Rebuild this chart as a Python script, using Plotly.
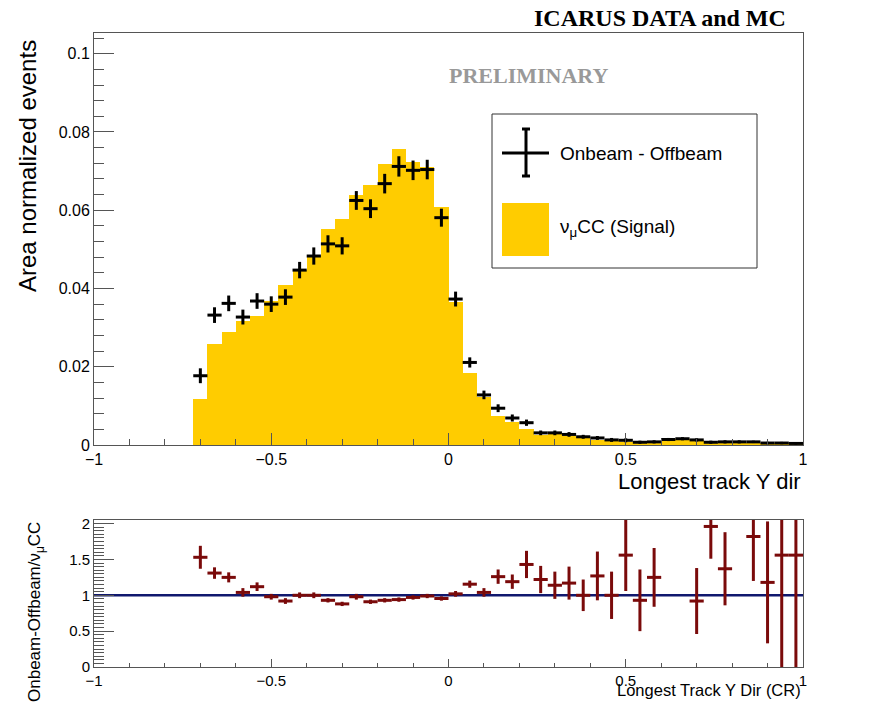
import plotly.graph_objects as go

W, H = 877, 705

# ---- data ----
bin_centers = [-0.70, -0.66, -0.62, -0.58, -0.54, -0.50, -0.46, -0.42, -0.38, -0.34,
               -0.30, -0.26, -0.22, -0.18, -0.14, -0.10, -0.06, -0.02, 0.02, 0.06,
               0.10, 0.14, 0.18, 0.22, 0.26, 0.30, 0.34, 0.38, 0.42, 0.46,
               0.50, 0.54, 0.58, 0.62, 0.66, 0.70, 0.74, 0.78, 0.82, 0.86,
               0.90, 0.94, 0.98]
bin_halfwidth = 0.02

data_vals = [0.0177, 0.0332, 0.0362, 0.0327, 0.0368, 0.0360, 0.0378, 0.0447, 0.0483, 0.0514,
             0.0509, 0.0625, 0.0604, 0.0668, 0.0712, 0.0702, 0.0704, 0.0581, 0.0373, 0.0211,
             0.0128, 0.0094, 0.0069, 0.0057, 0.0031, 0.0031, 0.0027, 0.0021, 0.0018, 0.0013,
             0.0012, 0.0007, 0.0008, 0.0014, 0.0016, 0.0013, 0.0007, 0.0008, 0.0008, 0.0008,
             0.0005, 0.0005, 0.0004]
data_err = [0.0019, 0.0020, 0.0020, 0.0019, 0.0020, 0.0020, 0.0020, 0.0021, 0.0022, 0.0022,
            0.0022, 0.0024, 0.0024, 0.0025, 0.0026, 0.0025, 0.0025, 0.0023, 0.0019, 0.0013,
            0.0011, 0.0010, 0.0009, 0.0008, 0.0006, 0.0006, 0.0006, 0.0005, 0.0005, 0.0005,
            0.0005, 0.0004, 0.0004, 0.0004, 0.0004, 0.0004, 0.0004, 0.0004, 0.0004, 0.0003,
            0.0003, 0.0003, 0.0003]
mc_vals = [0.0117, 0.0257, 0.0289, 0.0317, 0.0330, 0.0367, 0.0410, 0.0447, 0.0482, 0.0553,
           0.0578, 0.0638, 0.0664, 0.0718, 0.0757, 0.0724, 0.0711, 0.0608, 0.0366, 0.0184,
           0.0122, 0.0075, 0.0059, 0.0040, 0.0026, 0.0027, 0.0023, 0.0021, 0.0014, 0.0012,
           0.0008, 0.0008, 0.0006, 0.0013, 0.0015, 0.0014, 0.0004, 0.0006, 0.0005, 0.0004,
           0.0004, 0.0003, 0.0003]

ratio_vals = [1.53, 1.31, 1.25, 1.04, 1.12, 0.98, 0.92, 1.00, 1.00, 0.93,
              0.88, 0.98, 0.91, 0.93, 0.94, 0.97, 0.99, 0.955, 1.02, 1.155,
              1.04, 1.26, 1.19, 1.43, 1.22, 1.14, 1.17, 1.00, 1.27, 1.00,
              1.56, 0.93, 1.25, None, None, 0.92, 1.96, 1.37, None, 1.82,
              1.18, 1.56, 1.56]
ratio_err = [0.16, 0.08, 0.07, 0.06, 0.06, 0.04, 0.04, 0.04, 0.04, 0.03,
             0.03, 0.04, 0.03, 0.03, 0.03, 0.03, 0.03, 0.03, 0.04, 0.05,
             0.06, 0.10, 0.10, 0.19, 0.19, 0.19, 0.23, 0.22, 0.34, 0.33,
             0.50, 0.43, 0.41, 0.0, 0.0, 0.46, 0.45, 0.51, 0.0, 0.62,
             0.85, 1.60, 1.60]

# ---- geometry (pixels) ----
XL, XR = 94, 803
M_TOP, M_BOT = 33, 445
R_TOP, R_BOT = 520, 667

def px(x):
    return x / W

def py(y):
    return 1 - y / H

YELLOW = "#ffcc00"
DRED = "#7a0a0a"
NAVY = "#10186e"
FRAME = "#555555"
FONT = "Liberation Sans, Arial, sans-serif"
SERIF = "Liberation Serif, Times New Roman, serif"

fig = go.Figure()

# MC histogram
fig.add_trace(go.Bar(x=bin_centers, y=mc_vals, width=2 * bin_halfwidth,
                     marker=dict(color=YELLOW, line=dict(width=0)),
                     xaxis="x", yaxis="y", showlegend=False))

# Data points
fig.add_trace(go.Scatter(x=bin_centers, y=data_vals, mode="markers",
                         marker=dict(size=1, color="black"),
                         error_x=dict(type="constant", value=bin_halfwidth, thickness=3, width=0, color="black"),
                         error_y=dict(type="data", array=data_err, thickness=3, width=0, color="black"),
                         xaxis="x", yaxis="y", showlegend=False))

# Ratio unity line
fig.add_trace(go.Scatter(x=[-1, 1], y=[1, 1], mode="lines",
                         line=dict(color=NAVY, width=2.5),
                         xaxis="x2", yaxis="y2", showlegend=False))

# Ratio points
fig.add_trace(go.Scatter(x=bin_centers, y=ratio_vals, mode="markers",
                         marker=dict(size=1, color=DRED),
                         error_x=dict(type="constant", value=bin_halfwidth, thickness=3, width=0, color=DRED),
                         error_y=dict(type="data", array=ratio_err, thickness=3, width=0, color=DRED),
                         xaxis="x2", yaxis="y2", showlegend=False, cliponaxis=True))

axis_common = dict(showgrid=False, zeroline=False, showline=True, linecolor=FRAME,
                   linewidth=1, mirror=True, ticks="inside", tickcolor=FRAME,
                   automargin=False,
                   tickfont=dict(family=FONT, size=16, color="black"))

fig.update_layout(
    width=W, height=H,
    margin=dict(l=0, r=0, t=0, b=0),
    paper_bgcolor="white", plot_bgcolor="white",
    bargap=0,
    xaxis=dict(axis_common, domain=[px(XL), px(XR)], range=[-1, 1], anchor="y",
               tickvals=[-1, -0.5, 0, 0.5, 1], ticktext=["−1", "−0.5", "0", "0.5", "1"],
               ticklen=12, minor=dict(dtick=0.1, ticks="inside", ticklen=6, tickcolor=FRAME)),
    yaxis=dict(axis_common, domain=[py(M_BOT), py(M_TOP)], range=[0, 0.1053], anchor="x",
               tickvals=[0, 0.02, 0.04, 0.06, 0.08, 0.1],
               ticktext=["0", "0.02", "0.04", "0.06", "0.08", "0.1"],
               ticklen=20, minor=dict(dtick=0.004, ticks="inside", ticklen=10, tickcolor=FRAME)),
    xaxis2=dict(axis_common, domain=[px(XL), px(XR)], range=[-1, 1], anchor="y2",
                tickvals=[-1, -0.5, 0, 0.5, 1], ticktext=["−1", "−0.5", "0", "0.5", "1"],
                tickfont=dict(family=FONT, size=15, color="black"),
                ticklen=8, minor=dict(dtick=0.1, ticks="inside", ticklen=4, tickcolor=FRAME)),
    yaxis2=dict(axis_common, domain=[py(R_BOT), py(R_TOP)], range=[0, 2.05], anchor="x2",
                tickvals=[0, 0.5, 1, 1.5, 2], ticktext=["0", "0.5", "1", "1.5", "2"],
                tickfont=dict(family=FONT, size=15, color="black"),
                ticklen=20, minor=dict(dtick=0.05, ticks="inside", ticklen=10, tickcolor=FRAME)),
)

annotations = [
    dict(text="<b>ICARUS DATA and MC</b>", x=px(788), y=py(18), xanchor="right", yanchor="middle",
         font=dict(family=SERIF, size=24, color="black")),
    dict(text="<b>PRELIMINARY</b>", x=px(528), y=py(75), xanchor="center", yanchor="middle",
         font=dict(family=SERIF, size=22, color="#999999")),
    dict(text="Area normalized events", x=px(27), y=py(166), textangle=-90,
         xanchor="center", yanchor="middle",
         font=dict(family=FONT, size=24, color="black")),
    dict(text="Longest track Y dir", x=px(803), y=py(481), xanchor="right", yanchor="middle",
         font=dict(family=FONT, size=22, color="black")),
    dict(text="Onbeam-Offbeam/ν<sub>μ</sub>CC", x=px(36), y=py(612), textangle=-90,
         xanchor="center", yanchor="middle",
         font=dict(family=FONT, size=17, color="black")),
    dict(text="Longest Track Y Dir (CR)", x=px(803), y=py(690), xanchor="right", yanchor="middle",
         font=dict(family=FONT, size=16.5, color="black")),
    # legend texts
    dict(text="Onbeam - Offbeam", x=px(558), y=py(153), xanchor="left", yanchor="middle",
         font=dict(family=FONT, size=19, color="black")),
    dict(text="ν<sub>μ</sub>CC (Signal)", x=px(558), y=py(228), xanchor="left", yanchor="middle",
         font=dict(family=FONT, size=19, color="black")),
]
for a in annotations:
    a.update(xref="paper", yref="paper", showarrow=False)
fig.update_layout(annotations=annotations)

shapes = [
    # legend box
    dict(type="rect", x0=px(492), x1=px(757), y0=py(268), y1=py(114),
         line=dict(color="#333333", width=1), fillcolor="white", layer="above"),
    # legend cross
    dict(type="line", x0=px(502), x1=px(549), y0=py(153), y1=py(153), line=dict(color="black", width=3)),
    dict(type="line", x0=px(526), x1=px(526), y0=py(129), y1=py(176), line=dict(color="black", width=3)),
    dict(type="line", x0=px(522), x1=px(530), y0=py(129), y1=py(129), line=dict(color="black", width=3)),
    dict(type="line", x0=px(522), x1=px(530), y0=py(176), y1=py(176), line=dict(color="black", width=3)),
    # legend yellow box
    dict(type="rect", x0=px(502), x1=px(549), y0=py(256), y1=py(203),
         line=dict(width=0), fillcolor=YELLOW),
]
for s in shapes:
    s.update(xref="paper", yref="paper")
fig.update_layout(shapes=shapes)

fig.write_html("out.html")
